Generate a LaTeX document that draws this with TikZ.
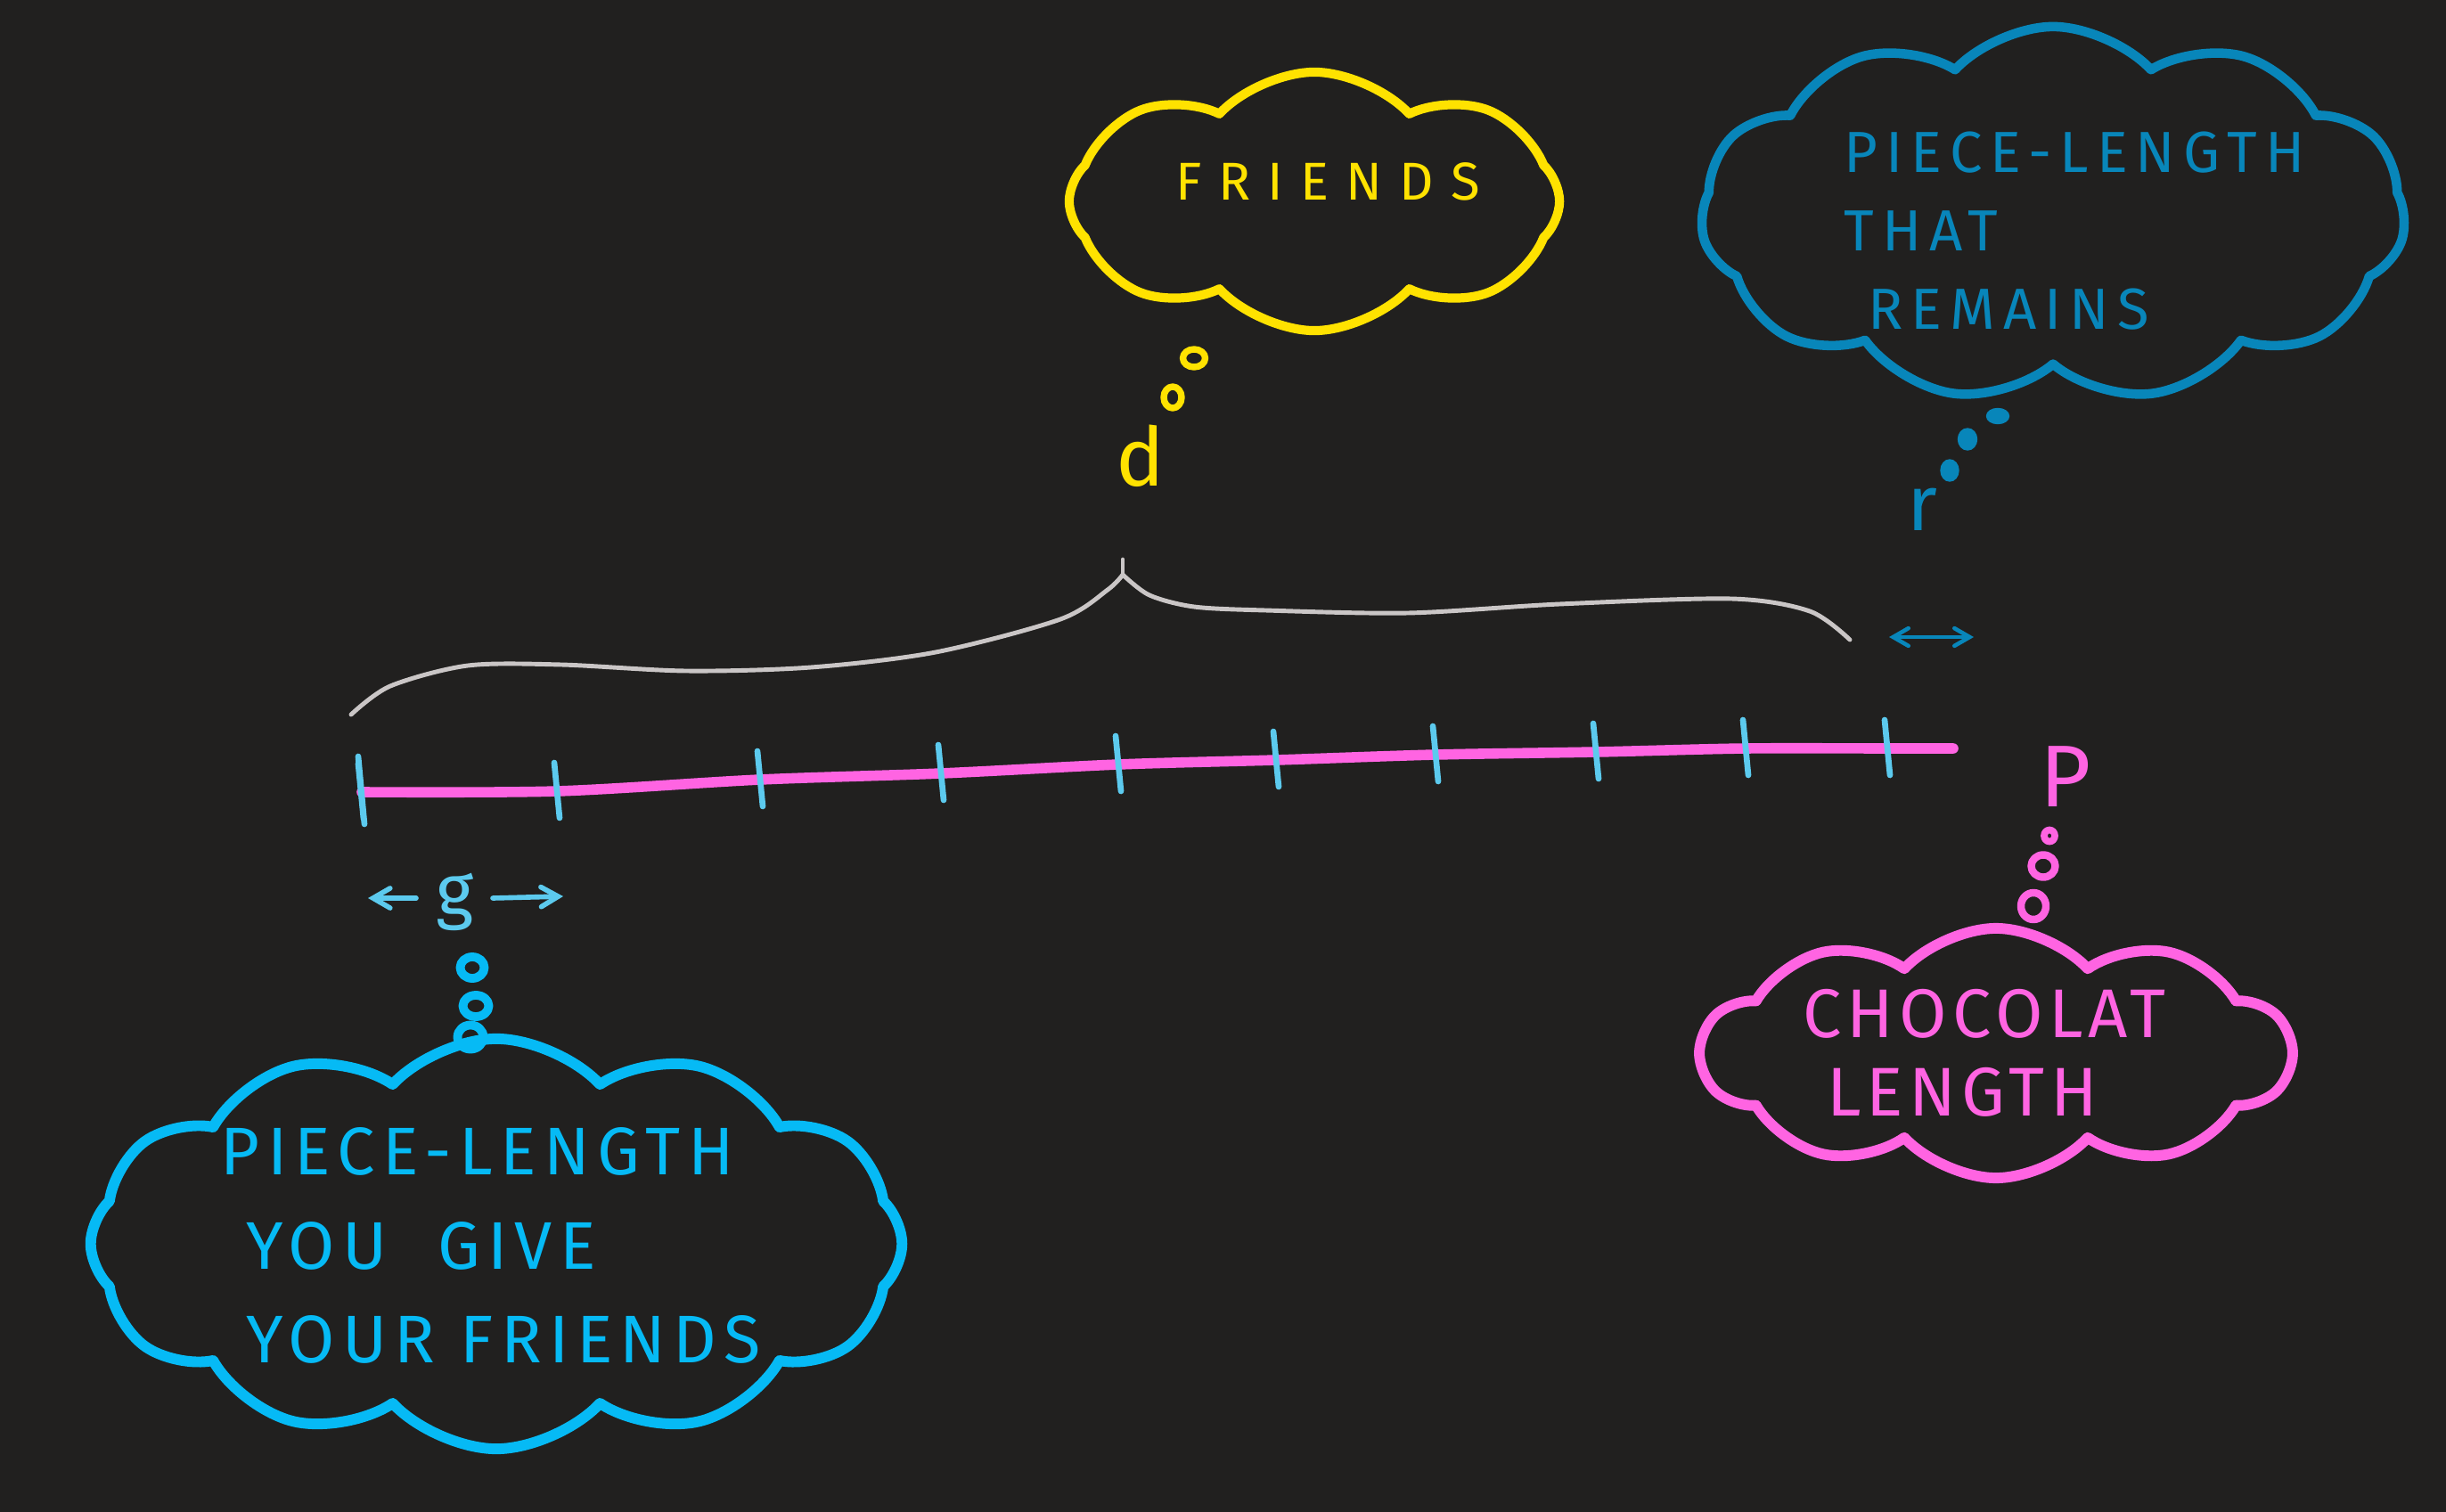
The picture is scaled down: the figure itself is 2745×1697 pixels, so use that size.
\documentclass[tikz,border=0pt]{standalone}
\usepackage{fontspec}
\setmainfont{Fira Sans}
\usepackage {tikz}
\usetikzlibrary{shapes,arrows, positioning}

\definecolor{board}{RGB}{33,32,31}
\definecolor{sun}{RGB}{255,226,0}
\definecolor{sea}{RGB}{8,134,186}
\definecolor{sky}{RGB}{6,186,245}
\definecolor{ice}{RGB}{92,202,238}
\definecolor{rose}{RGB}{255,100,226}
\definecolor{chalk}{RGB}{202,198,198}

\newcommand{\hand}[3]{\fontsize{#1}{#2}\selectfont\addfontfeatures{LetterSpace=#3}}

\begin{document}
\begin{tikzpicture}[x=0.01cm, y=-0.01cm, >=angle 60, line cap=round, line join=round,
think/.style={cloud, cloud puffs=11, cloud puff arc=95, cloud ignores aspect, draw, line width=3.4pt},
blob/.style={ellipse, draw, inner sep=0pt}]

\fill [board] (0,0) rectangle (2745,1697);

% the four thought clouds
\node [think, sun, line width=2.9pt, cloud puffs=8, minimum width=5.5cm, minimum height=2.9cm] (friends) at (1475,226) {};
\node [sun, font=\hand{17}{20}{32}] (friendstxt) at ([shift={(15,-22)}]friends.center) {FRIENDS};

\node [think, sea, line width=3pt, minimum width=7.9cm, minimum height=4.2cm] (remains) at (2304,240) {};
\node [sea, align=left, font=\hand{18.5}{25}{14}] (remainstxt) at ([shift={(24,19)}]remains.center) {PIECE-LENGTH\\THAT\\\ REMAINS};

\node [think, rose, cloud puffs=10, minimum width=6.6cm, minimum height=2.8cm] (choc) at (2240,1182) {};
\node [rose, align=left, font=\hand{22}{25}{8}] (choctxt) at ([shift={(-13,0)}]choc.center) {CHOCOLAT\\\ LENGTH};

\node [think, sky, cloud puffs=12, minimum width=9.1cm, minimum height=4.6cm] (give) at (557,1396) {};
\node [sky, align=left, font=\hand{21.5}{30}{11}] (givetxt) at ([shift={(-6,2)}]give.center) {PIECE-LENGTH\\\ YOU \ GIVE\\\ YOUR FRIENDS};

% the bar and its pieces
\draw [rose, line width=3.3pt] plot [smooth, tension=0.5] coordinates {(406,889) (625,888) (853,875) (1056,868) (1255,858) (1432,853) (1611,847) (1791,844) (1959,840) (2118,840) (2192,840)};
\foreach \i/\x/\y in {1/405/889, 2/625/888, 3/853/875, 4/1056/868, 5/1255/858, 6/1432/853, 7/1611/847, 8/1791/844, 9/1959/840, 10/2118/840}
{
\coordinate (t\i) at (\x,\y);
\draw [ice, line width=1.9pt] ([shift={(-3,-32)}]t\i) -- ([shift={(3,30)}]t\i);
}
\draw [ice, line width=1.9pt] ([shift={(-3,-40)}]t1) -- ([shift={(4,36)}]t1);

% the brace over the friends' pieces
\coordinate (tip) at (1260,628);
\coordinate (fork) at (1260,645);
\draw [chalk, line width=1.4pt] plot [smooth, tension=0.5] coordinates {(394,802) (438,770) (525,747) (630,746) (770,753) (910,749) (1050,732) (1190,695) (1243,662) (1260,645)};
\draw [chalk, line width=1.4pt] plot [smooth, tension=0.5] coordinates {(1260,645) (1290,668) (1340,681) (1420,685) (1580,688) (1750,678) (1943,672) (2031,686) (2076,718)};
\draw [chalk, line width=1.4pt] (fork) -- (tip);

% labels and their bubbles
\node [sun, font=\fontsize{26}{26}\selectfont] (d) at (1280,512) {d};
\node [blob, sun, line width=2.1pt, minimum width=0.2cm, minimum height=0.24cm] (d1) at (1316,446) {};
\node [blob, sun, line width=2.1pt, minimum width=0.25cm, minimum height=0.2cm] (d2) at (1340,402) {};

\node [sea, font=\fontsize{25}{25}\selectfont] (r) at (2157,572) {r};
\node [blob, sea, fill, minimum width=0.2cm, minimum height=0.24cm] (r1) at (2188,528) {};
\node [blob, sea, fill, minimum width=0.21cm, minimum height=0.24cm] (r2) at (2208,493) {};
\node [blob, sea, fill, minimum width=0.25cm, minimum height=0.17cm] (r3) at (2242,467) {};
\coordinate (rl) at (2120,715);
\coordinate (rr) at (2215,715);
\draw [sea, <->, line width=1.3pt] (rl) -- (rr);

\node [rose, font=\fontsize{28}{28}\selectfont] (p) at (2318,872) {P};
\node [blob, rose, line width=2.2pt, minimum width=0.12cm, minimum height=0.13cm] (p1) at (2300,938) {};
\node [blob, rose, line width=2.4pt, minimum width=0.27cm, minimum height=0.25cm] (p2) at (2293,972) {};
\node [blob, rose, line width=2.4pt, minimum width=0.28cm, minimum height=0.3cm] (p3) at (2282,1017) {};

\node [ice, font=\fontsize{23}{23}\selectfont] (g) at (511,1012) {g};
\coordinate (gl) at (413,1008);
\coordinate (gr) at (632,1006);
\draw [ice, ->, line width=1.6pt] (467,1008) -- (gl);
\draw [ice, ->, line width=1.6pt] (553,1008) -- (gr);
\node [blob, sky, line width=2.8pt, minimum width=0.27cm, minimum height=0.24cm] (g1) at (530,1086) {};
\node [blob, sky, line width=2.8pt, minimum width=0.29cm, minimum height=0.24cm] (g2) at (534,1129) {};
\node [blob, sky, line width=2.8pt, minimum width=0.29cm, minimum height=0.27cm] (g3) at (528,1164) {};

\end{tikzpicture}
\end{document}
